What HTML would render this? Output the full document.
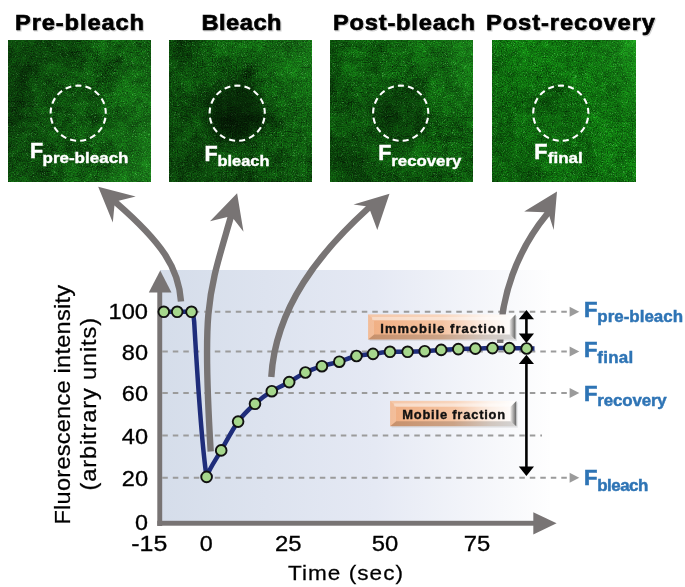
<!DOCTYPE html><html><head><meta charset="utf-8"><style>html,body{margin:0;padding:0;background:#fff;overflow:hidden}svg{display:block;will-change:transform}text{font-family:"Liberation Sans",sans-serif}</style></head><body>
<svg width="685" height="587" viewBox="0 0 685 587">
<defs>
<linearGradient id="bg" x1="0" y1="0" x2="1" y2="0"><stop offset="0" stop-color="#d5ddea"/><stop offset="0.55" stop-color="#e5e9f4"/><stop offset="1" stop-color="#fefefe"/></linearGradient>
<linearGradient id="box" x1="0" y1="0" x2="1" y2="0"><stop offset="0" stop-color="#f0ae82"/><stop offset="0.5" stop-color="#f5c4a2"/><stop offset="0.8" stop-color="#fcefe6"/><stop offset="1" stop-color="#ffffff"/></linearGradient>
<linearGradient id="rbev" x1="0" y1="0" x2="1" y2="0"><stop offset="0" stop-color="#000" stop-opacity="0.05"/><stop offset="1" stop-color="#000" stop-opacity="0.62"/></linearGradient>
<filter id="tex1" x="0" y="0" width="1" height="1" color-interpolation-filters="sRGB">
<feTurbulence type="fractalNoise" baseFrequency="0.035" numOctaves="2" seed="3" result="lo"/>
<feTurbulence type="fractalNoise" baseFrequency="0.14" numOctaves="1" seed="5" result="mid"/>
<feTurbulence type="fractalNoise" baseFrequency="0.8" numOctaves="1" seed="7" result="hi"/>
<feComposite in="lo" in2="mid" operator="arithmetic" k1="0" k2="0.28" k3="0.2" k4="0" result="m1"/>
<feComposite in="m1" in2="hi" operator="arithmetic" k1="0" k2="1" k3="0.52" k4="0" result="mix"/>
<feColorMatrix in="mix" type="matrix" values="0.2 0 0 0 -0.04  1.15 0 0 0 -0.22  0.2 0 0 0 -0.04  0 0 0 0 1" result="col"/>
<feComposite in="col" in2="SourceAlpha" operator="in"/>
</filter>
<filter id="tex2" x="0" y="0" width="1" height="1" color-interpolation-filters="sRGB">
<feTurbulence type="fractalNoise" baseFrequency="0.035" numOctaves="2" seed="11" result="lo"/>
<feTurbulence type="fractalNoise" baseFrequency="0.14" numOctaves="1" seed="13" result="mid"/>
<feTurbulence type="fractalNoise" baseFrequency="0.8" numOctaves="1" seed="15" result="hi"/>
<feComposite in="lo" in2="mid" operator="arithmetic" k1="0" k2="0.25" k3="0.2" k4="0" result="m1"/>
<feComposite in="m1" in2="hi" operator="arithmetic" k1="0" k2="1" k3="0.55" k4="0" result="mix"/>
<feColorMatrix in="mix" type="matrix" values="0.2 0 0 0 -0.04  1.15 0 0 0 -0.2  0.2 0 0 0 -0.04  0 0 0 0 1" result="col"/>
<feComposite in="col" in2="SourceAlpha" operator="in"/>
</filter>
<filter id="tex3" x="0" y="0" width="1" height="1" color-interpolation-filters="sRGB">
<feTurbulence type="fractalNoise" baseFrequency="0.035" numOctaves="2" seed="23" result="lo"/>
<feTurbulence type="fractalNoise" baseFrequency="0.14" numOctaves="1" seed="25" result="mid"/>
<feTurbulence type="fractalNoise" baseFrequency="0.8" numOctaves="1" seed="27" result="hi"/>
<feComposite in="lo" in2="mid" operator="arithmetic" k1="0" k2="0.25" k3="0.2" k4="0" result="m1"/>
<feComposite in="m1" in2="hi" operator="arithmetic" k1="0" k2="1" k3="0.55" k4="0" result="mix"/>
<feColorMatrix in="mix" type="matrix" values="0.2 0 0 0 -0.04  1.15 0 0 0 -0.18  0.2 0 0 0 -0.04  0 0 0 0 1" result="col"/>
<feComposite in="col" in2="SourceAlpha" operator="in"/>
</filter>
<filter id="tex4" x="0" y="0" width="1" height="1" color-interpolation-filters="sRGB">
<feTurbulence type="fractalNoise" baseFrequency="0.035" numOctaves="2" seed="31" result="lo"/>
<feTurbulence type="fractalNoise" baseFrequency="0.14" numOctaves="1" seed="33" result="mid"/>
<feTurbulence type="fractalNoise" baseFrequency="0.8" numOctaves="1" seed="35" result="hi"/>
<feComposite in="lo" in2="mid" operator="arithmetic" k1="0" k2="0.22" k3="0.2" k4="0" result="m1"/>
<feComposite in="m1" in2="hi" operator="arithmetic" k1="0" k2="1" k3="0.58" k4="0" result="mix"/>
<feColorMatrix in="mix" type="matrix" values="0.2 0 0 0 -0.04  1.15 0 0 0 -0.12  0.2 0 0 0 -0.04  0 0 0 0 1" result="col"/>
<feComposite in="col" in2="SourceAlpha" operator="in"/>
</filter>
<filter id="spark" x="0" y="0" width="1" height="1" color-interpolation-filters="sRGB">
<feTurbulence type="turbulence" baseFrequency="0.9" numOctaves="1" seed="5" result="n"/>
<feColorMatrix in="n" type="matrix" values="0 0 0 0 0.55  0 0 0 0 0.95  0 0 0 0 0.55  7 0 0 0 -2.6" result="c"/>
<feComposite in="c" in2="SourceAlpha" operator="in"/>
</filter>
<radialGradient id="spot"><stop offset="0" stop-color="#000" stop-opacity="0.62"/><stop offset="0.55" stop-color="#000" stop-opacity="0.5"/><stop offset="1" stop-color="#000" stop-opacity="0"/></radialGradient>
<linearGradient id="shade1" x1="0" y1="0.3" x2="1" y2="0.7"><stop offset="0" stop-color="#000" stop-opacity="0.32"/><stop offset="0.55" stop-color="#000" stop-opacity="0.06"/><stop offset="1" stop-color="#4f4" stop-opacity="0.16"/></linearGradient>
<linearGradient id="shade2" x1="0" y1="0.75" x2="1" y2="0"><stop offset="0" stop-color="#000" stop-opacity="0.32"/><stop offset="0.55" stop-color="#000" stop-opacity="0.1"/><stop offset="1" stop-color="#4f4" stop-opacity="0.18"/></linearGradient>
<linearGradient id="shade3" x1="0" y1="0.75" x2="1" y2="0"><stop offset="0" stop-color="#000" stop-opacity="0.28"/><stop offset="0.55" stop-color="#000" stop-opacity="0.06"/><stop offset="1" stop-color="#4f4" stop-opacity="0.2"/></linearGradient>
<linearGradient id="shade4" x1="0" y1="0.75" x2="1" y2="0"><stop offset="0" stop-color="#000" stop-opacity="0.2"/><stop offset="0.55" stop-color="#000" stop-opacity="0.0"/><stop offset="1" stop-color="#4f4" stop-opacity="0.25"/></linearGradient>
</defs>
<text transform="translate(16,31) scale(1.1,1)" x="0" y="0" font-size="21.5" font-weight="bold" fill="#888" opacity="0.35" textLength="117.27" lengthAdjust="spacing" stroke="#888" stroke-width="1">Pre-bleach</text>
<text transform="translate(15,30) scale(1.1,1)" x="0" y="0" font-size="21.5" font-weight="bold" fill="#000" textLength="117.27" lengthAdjust="spacing" stroke="#000" stroke-width="0.6">Pre-bleach</text>
<text transform="translate(202.5,31) scale(1.1,1)" x="0" y="0" font-size="21.5" font-weight="bold" fill="#888" opacity="0.35" textLength="72.73" lengthAdjust="spacing" stroke="#888" stroke-width="1">Bleach</text>
<text transform="translate(201.5,30) scale(1.1,1)" x="0" y="0" font-size="21.5" font-weight="bold" fill="#000" textLength="72.73" lengthAdjust="spacing" stroke="#000" stroke-width="0.6">Bleach</text>
<text transform="translate(334,31) scale(1.1,1)" x="0" y="0" font-size="21.5" font-weight="bold" fill="#888" opacity="0.35" textLength="129.09" lengthAdjust="spacing" stroke="#888" stroke-width="1">Post-bleach</text>
<text transform="translate(333,30) scale(1.1,1)" x="0" y="0" font-size="21.5" font-weight="bold" fill="#000" textLength="129.09" lengthAdjust="spacing" stroke="#000" stroke-width="0.6">Post-bleach</text>
<text transform="translate(487,31) scale(1.1,1)" x="0" y="0" font-size="21.5" font-weight="bold" fill="#888" opacity="0.35" textLength="153.64" lengthAdjust="spacing" stroke="#888" stroke-width="1">Post-recovery</text>
<text transform="translate(486,30) scale(1.1,1)" x="0" y="0" font-size="21.5" font-weight="bold" fill="#000" textLength="153.64" lengthAdjust="spacing" stroke="#000" stroke-width="0.6">Post-recovery</text>
<rect x="8" y="40" width="143" height="142" fill="#000" filter="url(#tex1)"/>
<rect x="8" y="40" width="143" height="142" fill="#000" filter="url(#spark)" opacity="0.35"/>
<rect x="8" y="40" width="143" height="142" fill="url(#shade1)"/>
<rect x="169" y="40" width="143" height="142" fill="#000" filter="url(#tex2)"/>
<rect x="169" y="40" width="143" height="142" fill="#000" filter="url(#spark)" opacity="0.35"/>
<rect x="169" y="40" width="143" height="142" fill="url(#shade2)"/>
<rect x="330" y="40" width="143" height="142" fill="#000" filter="url(#tex3)"/>
<rect x="330" y="40" width="143" height="142" fill="#000" filter="url(#spark)" opacity="0.35"/>
<rect x="330" y="40" width="143" height="142" fill="url(#shade3)"/>
<rect x="492" y="40" width="144" height="142" fill="#000" filter="url(#tex4)"/>
<rect x="492" y="40" width="144" height="142" fill="#000" filter="url(#spark)" opacity="0.35"/>
<rect x="492" y="40" width="144" height="142" fill="url(#shade4)"/>
<circle cx="237.2" cy="113.1" r="40" fill="url(#spot)" opacity="1.0"/>
<circle cx="400.7" cy="113.1" r="40" fill="url(#spot)" opacity="0.5"/>
<circle cx="560.8" cy="113.1" r="40" fill="url(#spot)" opacity="0.22"/>
<circle cx="78.2" cy="113.2" r="27.6" fill="none" stroke="#fff" stroke-width="2.1" stroke-dasharray="6.1 4.1" stroke-dashoffset="5.6"/>
<circle cx="237.2" cy="113.2" r="27.6" fill="none" stroke="#fff" stroke-width="2.1" stroke-dasharray="6.1 4.1" stroke-dashoffset="5.6"/>
<circle cx="400.7" cy="113.2" r="27.6" fill="none" stroke="#fff" stroke-width="2.1" stroke-dasharray="6.1 4.1" stroke-dashoffset="5.6"/>
<circle cx="560.8" cy="113.2" r="27.6" fill="none" stroke="#fff" stroke-width="2.1" stroke-dasharray="6.1 4.1" stroke-dashoffset="5.6"/>
<text x="30" y="158" font-size="21.5" font-weight="bold" fill="#fff" stroke="#fff" stroke-width="0.5">F</text>
<text x="42.5" y="163" font-size="15.5" font-weight="bold" fill="#fff" textLength="86" lengthAdjust="spacingAndGlyphs" stroke="#fff" stroke-width="0.4">pre-bleach</text>
<text x="204.5" y="161" font-size="21.5" font-weight="bold" fill="#fff" stroke="#fff" stroke-width="0.5">F</text>
<text x="217.5" y="165.8" font-size="15.5" font-weight="bold" fill="#fff" textLength="52" lengthAdjust="spacingAndGlyphs" stroke="#fff" stroke-width="0.4">bleach</text>
<text x="378.3" y="160.3" font-size="21.5" font-weight="bold" fill="#fff" stroke="#fff" stroke-width="0.5">F</text>
<text x="391.3" y="165.8" font-size="15.5" font-weight="bold" fill="#fff" textLength="70" lengthAdjust="spacingAndGlyphs" stroke="#fff" stroke-width="0.4">recovery</text>
<text x="534.3" y="159" font-size="21.5" font-weight="bold" fill="#fff" stroke="#fff" stroke-width="0.5">F</text>
<text x="547.8" y="163.4" font-size="15.5" font-weight="bold" fill="#fff" textLength="35" lengthAdjust="spacingAndGlyphs" stroke="#fff" stroke-width="0.4">final</text>
<rect x="160" y="270" width="390" height="251" fill="url(#bg)"/>
<line x1="162.3" y1="311.8" x2="569" y2="311.8" stroke="#9b9b9b" stroke-width="2" stroke-dasharray="5.5 5"/>
<polygon points="569.6,306.8 579.3,311.8 569.6,316.8" fill="#9b9b9b"/>
<line x1="162.3" y1="351.6" x2="569" y2="351.6" stroke="#9b9b9b" stroke-width="2" stroke-dasharray="5.5 5"/>
<polygon points="569.6,346.6 579.3,351.6 569.6,356.6" fill="#9b9b9b"/>
<line x1="162.3" y1="393.0" x2="569" y2="393.0" stroke="#9b9b9b" stroke-width="2" stroke-dasharray="5.5 5"/>
<polygon points="569.6,388.0 579.3,393.0 569.6,398.0" fill="#9b9b9b"/>
<line x1="162.3" y1="435.6" x2="542" y2="435.6" stroke="#9b9b9b" stroke-width="2" stroke-dasharray="5.5 5"/>
<line x1="162.3" y1="477.8" x2="569" y2="477.8" stroke="#9b9b9b" stroke-width="2" stroke-dasharray="5.5 5"/>
<polygon points="569.6,472.8 579.3,477.8 569.6,482.8" fill="#9b9b9b"/>
<rect x="157.3" y="290" width="4.9" height="236" fill="#787474"/>
<polygon points="160.2,270.5 148.8,292.6 171.5,292.6" fill="#787474"/>
<rect x="157.3" y="520.8" width="377" height="4.9" fill="#787474"/>
<polygon points="556.6,523.3 533.3,512.3 533.3,534.5" fill="#787474"/>
<text x="108.5" y="319.3" font-size="21.3" font-weight="normal" fill="#000" textLength="39.5" lengthAdjust="spacingAndGlyphs" stroke="#000" stroke-width="0.3">100</text>
<text x="121.8" y="359.8" font-size="21.3" font-weight="normal" fill="#000" textLength="26.200000000000003" lengthAdjust="spacingAndGlyphs" stroke="#000" stroke-width="0.3">80</text>
<text x="121.8" y="401.3" font-size="21.3" font-weight="normal" fill="#000" textLength="26.200000000000003" lengthAdjust="spacingAndGlyphs" stroke="#000" stroke-width="0.3">60</text>
<text x="121.8" y="444.1" font-size="21.3" font-weight="normal" fill="#000" textLength="26.200000000000003" lengthAdjust="spacingAndGlyphs" stroke="#000" stroke-width="0.3">40</text>
<text x="121.8" y="486.4" font-size="21.3" font-weight="normal" fill="#000" textLength="26.200000000000003" lengthAdjust="spacingAndGlyphs" stroke="#000" stroke-width="0.3">20</text>
<text x="135" y="530" font-size="21.3" font-weight="normal" fill="#000" textLength="13.0" lengthAdjust="spacingAndGlyphs" stroke="#000" stroke-width="0.3">0</text>
<text x="131.3" y="550.6" font-size="21.3" font-weight="normal" fill="#000" textLength="36" lengthAdjust="spacingAndGlyphs" stroke="#000" stroke-width="0.3">-15</text>
<text x="199.7" y="550.6" font-size="21.3" font-weight="normal" fill="#000" textLength="13" lengthAdjust="spacingAndGlyphs" stroke="#000" stroke-width="0.3">0</text>
<text x="275.05" y="550.6" font-size="21.3" font-weight="normal" fill="#000" textLength="26.5" lengthAdjust="spacingAndGlyphs" stroke="#000" stroke-width="0.3">25</text>
<text x="371.85" y="550.6" font-size="21.3" font-weight="normal" fill="#000" textLength="26.5" lengthAdjust="spacingAndGlyphs" stroke="#000" stroke-width="0.3">50</text>
<text x="463.75" y="550.6" font-size="21.3" font-weight="normal" fill="#000" textLength="26.5" lengthAdjust="spacingAndGlyphs" stroke="#000" stroke-width="0.3">75</text>
<text transform="translate(288,579.7) scale(1.08,1)" x="0" y="0" font-size="20.9" font-weight="normal" fill="#000" textLength="106.48" lengthAdjust="spacing" stroke="#000" stroke-width="0.25">Time (sec)</text>
<g transform="translate(70,524.5) rotate(-90)">
<text transform="translate(0,0) scale(1.08,1)" x="0" y="0" font-size="21.8" font-weight="normal" fill="#000" textLength="221.76" lengthAdjust="spacing" stroke="#000" stroke-width="0.25">Fluorescence intensity</text>
</g>
<g transform="translate(96.3,490.5) rotate(-90)">
<text transform="translate(0,0) scale(1.08,1)" x="0" y="0" font-size="21.8" font-weight="normal" fill="#000" textLength="159.72" lengthAdjust="spacing" stroke="#000" stroke-width="0.25">(arbitrary units)</text>
</g>
<path d="M181,301.5 C178.7,267.5 161.6,242.3 116.55,203.05 L115.42,202.06" fill="none" stroke="#787474" stroke-width="6.4"/>
<polygon points="98.2,186.8 135.7,196.5 118.65,200.64 114.45,205.46 112.8,222.5" fill="#787474"/>
<path d="M210.7,451.5 C201.8,303.2 208.5,294.4 230.5,218 L230.92,216.56" fill="none" stroke="#787474" stroke-width="6.4"/>
<polygon points="237.1,193.3 210,221.2 227.42,217.11 233.58,218.89 243.5,231.7" fill="#787474"/>
<path d="M271.3,377 C275.4,307 320.4,251.8 368,208.5 L369.11,207.49" fill="none" stroke="#787474" stroke-width="6.4"/>
<polygon points="389.5,193.7 353.5,204.4 365.85,206.13 370.15,210.87 377.3,229.9" fill="#787474"/>
<path d="M500.2,343 A205.8,205.8 0 0 1 546.9,214.3 L547.85,213.14" fill="none" stroke="#787474" stroke-width="6.4"/>
<polygon points="557,191.6 524.2,211.5 544.43,212.27 549.37,216.33 553.7,230.1" fill="#787474"/>
<path d="M163.8,311.8 L191.5,311.8 C193.5,313 193.8,318 194.2,322 C197,370 201,440 206.6,476.9 C209.72,467.80 215.95,459.62 221.2,450.4 C226.45,441.18 232.47,429.37 238.1,421.6 C243.73,413.83 249.38,408.87 255,403.8 C260.62,398.73 266.10,394.82 271.8,391.2 C277.50,387.58 283.60,385.22 289.2,382.1 C294.80,378.98 299.95,375.15 305.4,372.5 C310.85,369.85 316.25,368.00 321.9,366.2 C327.55,364.40 333.53,363.40 339.3,361.7 C345.07,360.00 350.88,357.30 356.5,356.0 C362.12,354.70 367.42,354.60 373,353.9 C378.58,353.20 384.23,352.15 390,351.8 C395.77,351.45 401.82,351.90 407.6,351.8 C413.38,351.70 419.10,351.52 424.7,351.2 C430.30,350.88 435.60,350.25 441.2,349.9 C446.80,349.55 452.60,349.32 458.3,349.1 C464.00,348.88 469.70,348.77 475.4,348.6 C481.10,348.43 486.85,348.18 492.5,348.1 C498.15,348.02 503.62,348.03 509.3,348.1 C514.98,348.17 522.40,348.43 526.6,348.5 C530.80,348.57 533.18,348.50 534.5,348.5" fill="none" stroke="#1f2d7a" stroke-width="4.5" stroke-linejoin="round"/>
<circle cx="163.8" cy="311.8" r="5.35" fill="#a6d78c" stroke="#111" stroke-width="1.9"/>
<circle cx="177.2" cy="311.8" r="5.35" fill="#a6d78c" stroke="#111" stroke-width="1.9"/>
<circle cx="191.5" cy="311.8" r="5.35" fill="#a6d78c" stroke="#111" stroke-width="1.9"/>
<circle cx="206.6" cy="476.9" r="5.35" fill="#a6d78c" stroke="#111" stroke-width="1.9"/>
<circle cx="221.2" cy="450.4" r="5.35" fill="#a6d78c" stroke="#111" stroke-width="1.9"/>
<circle cx="238.1" cy="421.6" r="5.35" fill="#a6d78c" stroke="#111" stroke-width="1.9"/>
<circle cx="255" cy="403.8" r="5.35" fill="#a6d78c" stroke="#111" stroke-width="1.9"/>
<circle cx="271.8" cy="391.2" r="5.35" fill="#a6d78c" stroke="#111" stroke-width="1.9"/>
<circle cx="289.2" cy="382.1" r="5.35" fill="#a6d78c" stroke="#111" stroke-width="1.9"/>
<circle cx="305.4" cy="372.5" r="5.35" fill="#a6d78c" stroke="#111" stroke-width="1.9"/>
<circle cx="321.9" cy="366.2" r="5.35" fill="#a6d78c" stroke="#111" stroke-width="1.9"/>
<circle cx="339.3" cy="361.7" r="5.35" fill="#a6d78c" stroke="#111" stroke-width="1.9"/>
<circle cx="356.5" cy="356.0" r="5.35" fill="#a6d78c" stroke="#111" stroke-width="1.9"/>
<circle cx="373" cy="353.9" r="5.35" fill="#a6d78c" stroke="#111" stroke-width="1.9"/>
<circle cx="390" cy="351.8" r="5.35" fill="#a6d78c" stroke="#111" stroke-width="1.9"/>
<circle cx="407.6" cy="351.8" r="5.35" fill="#a6d78c" stroke="#111" stroke-width="1.9"/>
<circle cx="424.7" cy="351.2" r="5.35" fill="#a6d78c" stroke="#111" stroke-width="1.9"/>
<circle cx="441.2" cy="349.9" r="5.35" fill="#a6d78c" stroke="#111" stroke-width="1.9"/>
<circle cx="458.3" cy="349.1" r="5.35" fill="#a6d78c" stroke="#111" stroke-width="1.9"/>
<circle cx="475.4" cy="348.6" r="5.35" fill="#a6d78c" stroke="#111" stroke-width="1.9"/>
<circle cx="492.5" cy="348.1" r="5.35" fill="#a6d78c" stroke="#111" stroke-width="1.9"/>
<circle cx="509.3" cy="348.1" r="5.35" fill="#a6d78c" stroke="#111" stroke-width="1.9"/>
<circle cx="526.6" cy="348.5" r="5.35" fill="#a6d78c" stroke="#111" stroke-width="1.9"/>
<rect x="369.6" y="316.0" width="147.4" height="25" fill="#000" opacity="0.08"/>
<rect x="368.1" y="314.5" width="147.4" height="25" fill="url(#box)"/>
<polygon points="368.1,314.5 515.5,314.5 509.5,320.5 374.1,320.5" fill="#fff" opacity="0.3"/>
<rect x="372.1" y="317.0" width="139.4" height="3" fill="#fff" opacity="0.35"/>
<polygon points="368.1,339.5 515.5,339.5 509.5,334.5 374.1,334.5" fill="#000" opacity="0.17"/>
<polygon points="368.1,314.5 374.1,320.5 374.1,334.5 368.1,339.5" fill="#fff" opacity="0.18"/>
<polygon points="515.5,314.5 509.5,320.5 509.5,334.5 515.5,339.5" fill="url(#rbev)"/>
<text transform="translate(380.3,332.8) scale(1.06,1)" x="0" y="0" font-size="12.2" font-weight="bold" fill="#111" textLength="117.45" lengthAdjust="spacing" stroke="#111" stroke-width="0.35">Immobile fraction</text>
<rect x="391.6" y="402.4" width="126.2" height="25.3" fill="#000" opacity="0.08"/>
<rect x="390.1" y="400.9" width="126.2" height="25.3" fill="url(#box)"/>
<polygon points="390.1,400.9 516.3000000000001,400.9 510.30000000000007,406.9 396.1,406.9" fill="#fff" opacity="0.3"/>
<rect x="394.1" y="403.4" width="118.2" height="3" fill="#fff" opacity="0.35"/>
<polygon points="390.1,426.2 516.3000000000001,426.2 510.30000000000007,421.2 396.1,421.2" fill="#000" opacity="0.17"/>
<polygon points="390.1,400.9 396.1,406.9 396.1,421.2 390.1,426.2" fill="#fff" opacity="0.18"/>
<polygon points="516.3000000000001,400.9 510.30000000000007,406.9 510.30000000000007,421.2 516.3000000000001,426.2" fill="url(#rbev)"/>
<text transform="translate(402.2,418.7) scale(1.06,1)" x="0" y="0" font-size="12.2" font-weight="bold" fill="#111" textLength="97.17" lengthAdjust="spacing" stroke="#111" stroke-width="0.35">Mobile fraction</text>
<line x1="526.4" y1="317.9" x2="526.4" y2="335" stroke="#000" stroke-width="2.6"/>
<polygon points="526.4,309.9 518.8,319.29999999999995 534.0,319.29999999999995" fill="#000"/>
<polygon points="526.4,343 518.8,333.6 534.0,333.6" fill="#000"/>
<line x1="526.4" y1="362.7" x2="526.4" y2="467.9" stroke="#000" stroke-width="2.6"/>
<polygon points="526.4,354.7 518.8,364.09999999999997 534.0,364.09999999999997" fill="#000"/>
<polygon points="526.4,475.9 518.8,466.5 534.0,466.5" fill="#000"/>
<text x="584" y="316.7" font-size="22" font-weight="bold" fill="#2e74b5" stroke="#2e74b5" stroke-width="0.6">F</text>
<text transform="translate(597.3,322.09999999999997) scale(1.04,1)" x="0" y="0" font-size="16.3" font-weight="bold" fill="#2e74b5" textLength="82.50" lengthAdjust="spacing" stroke="#2e74b5" stroke-width="0.45">pre-bleach</text>
<text x="584" y="357.4" font-size="22" font-weight="bold" fill="#2e74b5" stroke="#2e74b5" stroke-width="0.6">F</text>
<text transform="translate(597.3,362.79999999999995) scale(1.04,1)" x="0" y="0" font-size="16.3" font-weight="bold" fill="#2e74b5" textLength="34.62" lengthAdjust="spacing" stroke="#2e74b5" stroke-width="0.45">final</text>
<text x="584" y="400.5" font-size="22" font-weight="bold" fill="#2e74b5" stroke="#2e74b5" stroke-width="0.6">F</text>
<text transform="translate(597.3,405.9) scale(1.04,1)" x="0" y="0" font-size="16.3" font-weight="bold" fill="#2e74b5" textLength="66.83" lengthAdjust="spacing" stroke="#2e74b5" stroke-width="0.45">recovery</text>
<text x="584" y="485.4" font-size="22" font-weight="bold" fill="#2e74b5" stroke="#2e74b5" stroke-width="0.6">F</text>
<text transform="translate(597.3,490.79999999999995) scale(1.04,1)" x="0" y="0" font-size="16.3" font-weight="bold" fill="#2e74b5" textLength="49.04" lengthAdjust="spacing" stroke="#2e74b5" stroke-width="0.45">bleach</text>
</svg></body></html>
